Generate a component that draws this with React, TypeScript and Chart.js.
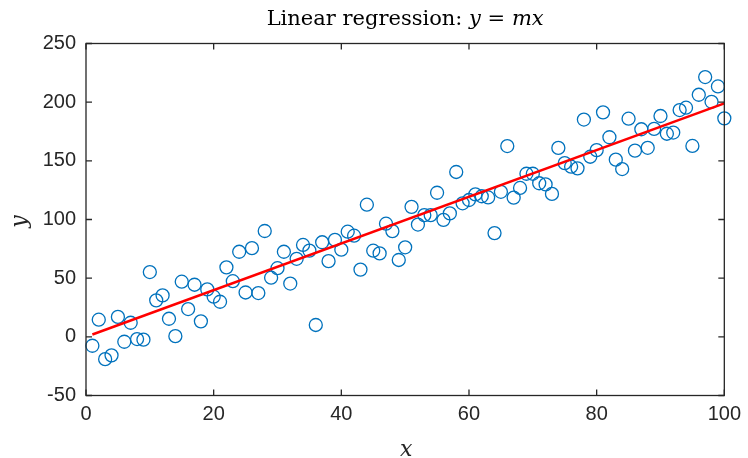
import React, { useEffect, useRef } from "react";
import { Chart, registerables } from "chart.js";

Chart.register(...registerables);

const xValues = [
  1, 2, 3, 4, 5, 6, 7, 8, 9, 10, 11, 12, 13, 14, 15, 16, 17, 18, 19, 20,
  21, 22, 23, 24, 25, 26, 27, 28, 29, 30, 31, 32, 33, 34, 35, 36, 37, 38, 39, 40,
  41, 42, 43, 44, 45, 46, 47, 48, 49, 50, 51, 52, 53, 54, 55, 56, 57, 58, 59, 60,
  61, 62, 63, 64, 65, 66, 67, 68, 69, 70, 71, 72, 73, 74, 75, 76, 77, 78, 79, 80,
  81, 82, 83, 84, 85, 86, 87, 88, 89, 90, 91, 92, 93, 94, 95, 96, 97, 98, 99, 100,
];

const yValues = [
  -7.6, 14.6, -19, -15.8, 17, -4.2, 12, -1.9, -2.4, 55.2,
  31.1, 35.3, 15.4, 0.6, 47, 23.7, 44.4, 13.2, 40.4, 34.2,
  29.9, 59.2, 47.4, 72.5, 37.8, 75.6, 37.3, 90.2, 50.4, 58.5,
  72.5, 45.4, 66.5, 78.3, 73.5, 10.1, 80.6, 64.5, 82.6, 74.3,
  89.6, 86.2, 57.3, 112.6, 73.4, 71.1, 96.4, 90.1, 65.5, 76.3,
  110.8, 95.7, 103.7, 103.7, 122.8, 99.7, 105.2, 140.5, 113.8, 116.6,
  121.4, 119.8, 118.8, 88.4, 123.6, 162.6, 118.6, 126.9, 139, 139,
  130.9, 129.9, 121.8, 161, 148, 145, 143.6, 185.2, 153.5, 159.1,
  191.3, 170.1, 151, 143, 185.9, 158.7, 176.9, 161.1, 177.2, 188.2,
  173.1, 174.1, 193.3, 195.3, 162.7, 206.3, 221.4, 200.3, 213.4, 186.2,
];

// regression line endpoints (y = m x with m ≈ 1.99)
const fitX = [1, 100];
const fitY = [1.99, 199];

const xTicks = [0, 20, 40, 60, 80, 100];
const yTicks = [-50, 0, 50, 100, 150, 200, 250];

const TITLE_PARTS: { text: string; italic: boolean }[] = [
  { text: "Linear regression: ", italic: false },
  { text: "y", italic: true },
  { text: " = ", italic: false },
  { text: "mx", italic: true },
];

const AXIS_COLOR = "#262626";
const SERIF = '"DejaVu Serif", "Liberation Serif", serif';
const SANS = '"Liberation Sans", Arial, sans-serif';
const TICK_LEN = 6;

const framePlugin = {
  id: "matlabFrame",
  afterDraw(chart: any) {
    const { ctx, chartArea: a, scales } = chart;
    const xs = scales.x;
    const ys = scales.y;
    ctx.save();
    ctx.strokeStyle = AXIS_COLOR;
    ctx.lineWidth = 1.3;
    ctx.strokeRect(a.left, a.top, a.right - a.left, a.bottom - a.top);
    ctx.beginPath();
    xs.ticks.forEach((t: any) => {
      const px = xs.getPixelForValue(t.value);
      ctx.moveTo(px, a.bottom);
      ctx.lineTo(px, a.bottom - TICK_LEN);
      ctx.moveTo(px, a.top);
      ctx.lineTo(px, a.top + TICK_LEN);
    });
    ys.ticks.forEach((t: any) => {
      const py = ys.getPixelForValue(t.value);
      ctx.moveTo(a.left, py);
      ctx.lineTo(a.left + TICK_LEN, py);
      ctx.moveTo(a.right, py);
      ctx.lineTo(a.right - TICK_LEN, py);
    });
    ctx.stroke();

    // title
    ctx.fillStyle = "#000";
    ctx.textBaseline = "alphabetic";
    ctx.textAlign = "left";
    const size = 21;
    const widths = TITLE_PARTS.map((p) => {
      ctx.font = `${p.italic ? "italic " : ""}${size}px ${SERIF}`;
      return ctx.measureText(p.text).width;
    });
    const total = widths.reduce((s, w) => s + w, 0);
    let x = (a.left + a.right) / 2 - total / 2;
    TITLE_PARTS.forEach((p, i) => {
      ctx.font = `${p.italic ? "italic " : ""}${size}px ${SERIF}`;
      ctx.fillText(p.text, x, 25);
      x += widths[i];
    });

    // axis labels
    ctx.font = `italic 22px ${SERIF}`;
    ctx.fillStyle = "#262626";
    ctx.textAlign = "center";
    ctx.textBaseline = "middle";
    ctx.fillText("x", (a.left + a.right) / 2 + 1, 450);
    ctx.save();
    ctx.translate(20, (a.top + a.bottom) / 2 + 2);
    ctx.rotate(-Math.PI / 2);
    ctx.fillText("y", 0, 0);
    ctx.restore();
    ctx.restore();
  },
};

export default function App() {
  const ref = useRef<HTMLCanvasElement | null>(null);

  useEffect(() => {
    if (!ref.current) return;
    const chart = new Chart(ref.current, {
      type: "scatter",
      data: {
        datasets: [
          {
            type: "line",
            label: "fit",
            data: fitX.map((x, i) => ({ x, y: fitY[i] })),
            borderColor: "#ff0000",
            borderWidth: 2.5,
            pointRadius: 0,
            fill: false,
          } as any,
          {
            label: "data",
            data: xValues.map((x, i) => ({ x, y: yValues[i] })),
            borderColor: "#0072BD",
            backgroundColor: "rgba(0,0,0,0)",
            borderWidth: 1.3,
            pointRadius: 6.5,
            pointStyle: "circle",
            clip: false,
          } as any,
        ],
      },
      options: {
        animation: false,
        responsive: true,
        maintainAspectRatio: false,
        layout: { padding: { left: 0, right: 20, top: 43.5, bottom: 0 } },
        plugins: {
          legend: { display: false },
          tooltip: { enabled: false },
          title: { display: false },
        },
        scales: {
          x: {
            type: "linear",
            min: 0,
            max: 100,
            afterBuildTicks: (s: any) => {
              s.ticks = xTicks.map((v) => ({ value: v }));
            },
            afterFit: (s: any) => {
              s.height = 62.5;
            },
            grid: { display: false, drawTicks: false },
            border: { display: false },
            ticks: {
              padding: 7,
              color: AXIS_COLOR,
              font: { family: SANS, size: 20 },
              maxRotation: 0,
            },
          },
          y: {
            type: "linear",
            min: -50,
            max: 250,
            afterBuildTicks: (s: any) => {
              s.ticks = yTicks.map((v) => ({ value: v }));
            },
            afterFit: (s: any) => {
              s.width = 86;
            },
            grid: { display: false, drawTicks: false },
            border: { display: false },
            ticks: {
              padding: 10,
              color: AXIS_COLOR,
              font: { family: SANS, size: 20 },
            },
          },
        },
      },
      plugins: [framePlugin],
    });
    return () => chart.destroy();
  }, []);

  return (
    <div
      style={{
        position: "fixed",
        left: 0,
        top: 0,
        width: 748,
        height: 458,
        background: "#fff",
      }}
    >
      <canvas ref={ref} />
    </div>
  );
}
